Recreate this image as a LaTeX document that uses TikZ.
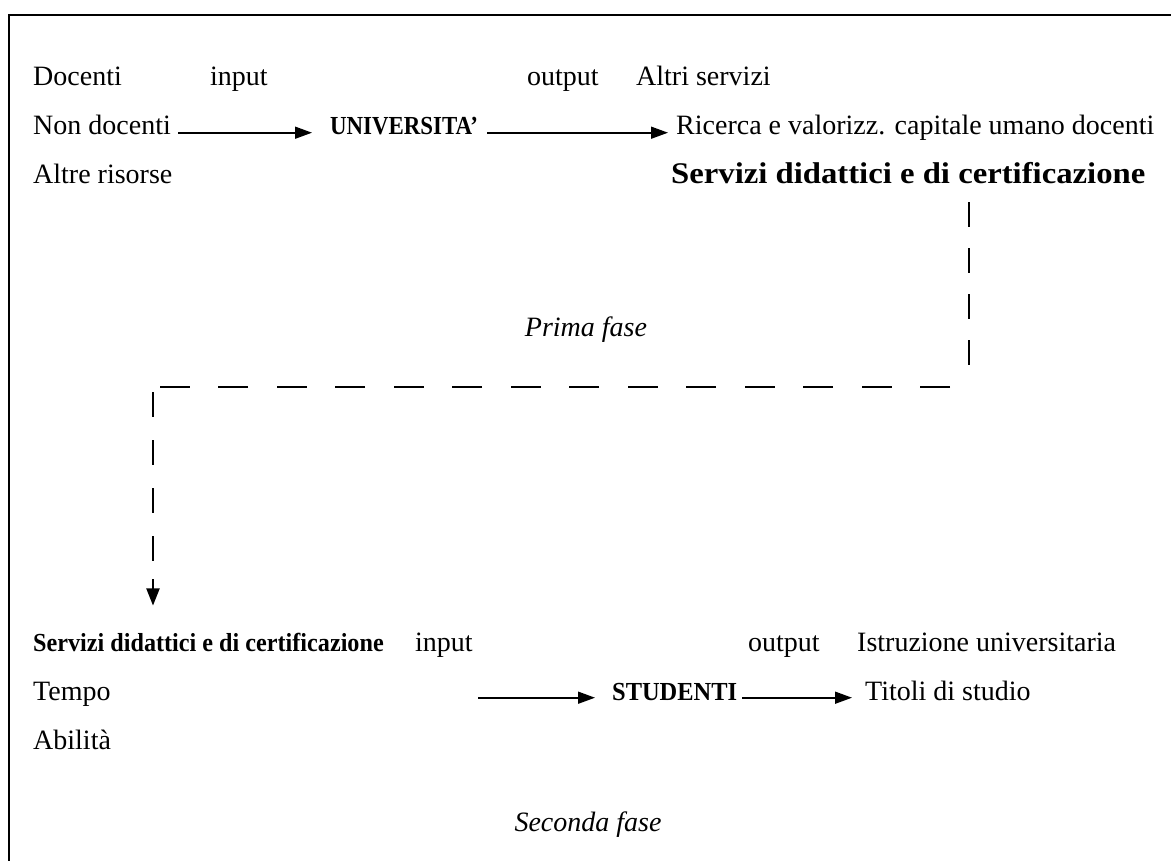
\documentclass[tikz,border=0pt]{standalone}
\usepackage{fontspec}
\setmainfont{Liberation Serif}
\usetikzlibrary{arrows.meta}

\begin{document}
\begin{tikzpicture}[x=1pt,y=1pt]
\tikzstyle{every node}+=[inner sep=0pt,anchor=base west,font=\fontsize{28}{30}\selectfont]
\tikzstyle{heavy}=[font=\fontsize{26}{28}\selectfont\bfseries]
\tikzstyle{flow}=[line width=1.6pt,-{Triangle[length=17pt,width=12pt]}]
\tikzstyle{dashlink}=[line width=2pt]
\useasboundingbox (0,0) rectangle (1171,-861);
\draw [line width=2.5pt] (1171,-15) -- (9,-15) -- (9,-861);
% prima fase
\node (doc) at (33,-86) {Docenti};
\node (inA) at (210,-86) {input};
\node (outA) at (527,-86) {output};
\node (altri) at (636,-86) {Altri servizi};
\node (nondoc) at (33,-135) {Non docenti};
\node [heavy,xscale=0.88] (univ) at (330,-135) {UNIVERSITA'};
\node (ricerca) at (676,-135) {Ricerca e valorizz. capitale umano docenti};
\node (altre) at (33,-184) {Altre risorse};
\node [font=\fontsize{30}{32}\selectfont\bfseries,xscale=1.09] (servA) at (671,-184) {Servizi didattici e di certificazione};
\node [anchor=base] (prima) at (586,-337) {\textit{Prima fase}};
\draw [flow] ([xshift=7pt]nondoc.mid east) -- ([xshift=-18pt]univ.mid west |- nondoc.mid east);
\draw [flow] ([xshift=9pt]univ.mid east |- ricerca.mid west) -- ([xshift=-8pt]ricerca.mid west);
% seconda fase
\node [heavy,xscale=0.93] (servB) at (33,-651) {Servizi didattici e di certificazione};
\node (inB) at (415,-651) {input};
\node (outB) at (748,-651) {output};
\node (istr) at (857,-651) {Istruzione universitaria};
\node (tempo) at (33,-700) {Tempo};
\node [heavy,xscale=0.94] (stud) at (612,-700) {STUDENTI};
\node (titoli) at (865,-700) {Titoli di studio};
\node (abil) at (33,-749) {Abilità};
\node [anchor=base] (seconda) at (588,-831) {\textit{Seconda fase}};
\coordinate (tin) at (478,-700);
\draw [flow] (tin |- titoli.mid west) -- ([xshift=-17pt]stud.mid west |- titoli.mid west);
\draw [flow] ([xshift=5pt]stud.mid east |- titoli.mid west) -- ([xshift=-13pt]titoli.mid west);
% passaggio tra le fasi
\coordinate (bendR) at (969,-387);
\coordinate (bendL) at (153,-387);
\draw [dashlink,dash pattern=on 25pt off 21pt] ([yshift=-18pt]servA.south -| bendR) -- ([yshift=5pt]bendR);
\draw [dashlink,dash pattern=on 30pt off 28.5pt] ([xshift=-19pt]bendR) -- ([xshift=4pt]bendL);
\draw [dashlink,dash pattern=on 25pt off 23pt] ([yshift=-5pt]bendL) -- ([yshift=-175pt]bendL);
\draw [-{Triangle[length=17pt,width=13pt]},line width=2pt] ([yshift=-192pt]bendL) -- ([yshift=27pt]servB.north -| bendL);
\end{tikzpicture}
\end{document}
